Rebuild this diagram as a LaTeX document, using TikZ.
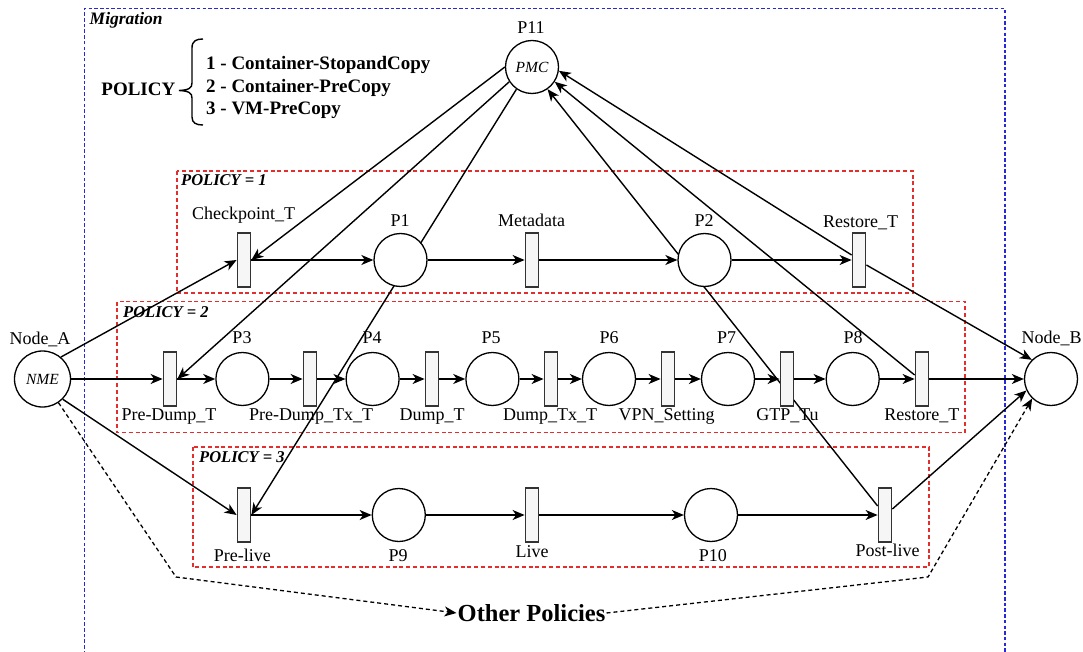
\documentclass[tikz,border=0pt]{standalone}
\usepackage{fontspec}
\setmainfont{Liberation Serif}
\usetikzlibrary{arrows.meta,calc}
\pgfdeclarelayer{bg}
\pgfsetlayers{bg,main}
\definecolor{polred}{RGB}{228,45,45}
\definecolor{migblue}{RGB}{40,40,215}
\definecolor{tfill}{RGB}{246,246,246}
\begin{document}
\begin{tikzpicture}[x=1pt,y=-1pt,
  place/.style={circle,draw=black,line width=1.3pt,fill=white,minimum size=53pt,inner sep=0pt},
  trans/.style={rectangle,draw=black!80,line width=1.3pt,fill=tfill,minimum width=13.5pt,minimum height=54pt,inner sep=0pt},
  lbl/.style={font=\fontsize{18}{20}\selectfont,inner sep=0pt,anchor=base},
  inlbl/.style={font=\fontsize{15.5}{18}\selectfont\itshape,inner sep=0pt},
  pol/.style={draw=polred,line width=1.6pt,dash pattern=on 4pt off 2.8pt},
  poltxt/.style={font=\fontsize{16.5}{19}\selectfont\bfseries\itshape,inner sep=0pt,anchor=base west},
  arc/.style={line width=1.4pt,-{Stealth[length=12pt,width=10pt,inset=3.5pt]}},
  dasharc/.style={line width=1.3pt,dash pattern=on 4pt off 3pt,-{Stealth[length=12pt,width=10pt,inset=3.5pt]}},
  bigtxt/.style={font=\fontsize{19}{22}\selectfont\bfseries,inner sep=0pt}
]
\useasboundingbox (0,0) rectangle (1083,652);

% ---------- places ----------
\node[place] (P11) at (532,67) {};
\node[inlbl] (tP11) at (P11) {PMC};
\node[place] (P1) at (400.5,260) {};
\node[place] (P2) at (704.5,260) {};
\node[place,minimum size=56pt] (NA) at (42.5,379) {};
\node[inlbl] (tNA) at (NA) {NME};
\node[place] (P3) at (242.4,379) {};
\node[place] (P4) at (372.6,379) {};
\node[place] (P5) at (492.4,379) {};
\node[place] (P6) at (609,379) {};
\node[place] (P7) at (728,379) {};
\node[place] (P8) at (852.7,379) {};
\node[place] (NB) at (1051,379) {};
\node[place] (P9) at (398.8,515) {};
\node[place] (P10) at (711,515) {};

% ---------- transitions ----------
\node[trans] (CkT) at (244,260) {};
\node[trans] (Meta) at (532,260) {};
\node[trans] (RT1) at (859,260) {};
\node[trans] (PDT) at (170,379) {};
\node[trans] (PDTx) at (310,379) {};
\node[trans] (DT) at (432,379) {};
\node[trans] (DTx) at (551,379) {};
\node[trans] (VPN) at (668,379) {};
\node[trans] (GTP) at (787,379) {};
\node[trans] (RT2) at (922,379) {};
\node[trans] (PL) at (244,515) {};
\node[trans] (Live) at (532,515) {};
\node[trans] (PoL) at (885,515) {};

% ---------- labels ----------
\node[lbl] (lP11) at (531,34) {P11};
\node[lbl] (lCkT) at (243.5,220) {Checkpoint\_T};
\node[lbl] (lP1) at (400,226.5) {P1};
\node[lbl] (lMeta) at (531.5,226.5) {Metadata};
\node[lbl] (lP2) at (704,226.5) {P2};
\node[lbl] (lRT1) at (860.5,227.5) {Restore\_T};
\node[lbl] (lNA) at (40,344) {Node\_A};
\node[lbl] (lNB) at (1051.5,343) {Node\_B};
\node[lbl] (lP3) at (242,343) {P3};
\node[lbl] (lP4) at (372,343) {P4};
\node[lbl] (lP5) at (491,343) {P5};
\node[lbl] (lP6) at (609,343) {P6};
\node[lbl] (lP7) at (726.6,343) {P7};
\node[lbl] (lP8) at (853,343) {P8};
\node[lbl] (lPDT) at (169,420.5) {Pre-Dump\_T};
\node[lbl] (lPDTx) at (311,420.5) {Pre-Dump\_Tx\_T};
\node[lbl] (lDT) at (432,420.5) {Dump\_T};
\node[lbl] (lDTx) at (550,420.5) {Dump\_Tx\_T};
\node[lbl] (lVPN) at (666.5,420.5) {VPN\_Setting};
\node[lbl] (lGTP) at (787.5,420.5) {GTP\_Tu};
\node[lbl] (lRT2) at (921.8,420.5) {Restore\_T};
\node[lbl] (lPL) at (242.4,561) {Pre-live};
\node[lbl] (lP9) at (398,561.5) {P9};
\node[lbl] (lLive) at (532,557.5) {Live};
\node[lbl] (lP10) at (712.8,561.5) {P10};
\node[lbl] (lPoL) at (887.6,556) {Post-live};

% ---------- texts ----------
\node[font=\fontsize{17.5}{20}\selectfont\bfseries\itshape,inner sep=0pt,anchor=base west] (mig) at (89.5,25) {Migration};
\node[poltxt] (pol1) at (181,186) {POLICY = 1};
\node[poltxt] (pol2) at (123,317.5) {POLICY = 2};
\node[poltxt] (pol3) at (199,462.5) {POLICY = 3};
\node[bigtxt,anchor=base east] (policy) at (175.5,96) {POLICY};
\node[bigtxt,anchor=base west] (it1) at (206,70) {1 - Container-StopandCopy};
\node[bigtxt,anchor=base west] (it2) at (206,92.5) {2 - Container-PreCopy};
\node[bigtxt,anchor=base west] (it3) at (206,115) {3 - VM-PreCopy};
\node[font=\fontsize{24.5}{28}\selectfont\bfseries,inner sep=1pt] (OP) at (531.5,613) {Other Policies};

\coordinate (b1) at (176,577);
\coordinate (b2) at (928,577);

\begin{pgfonlayer}{bg}
  % frames
  \draw[draw=migblue,line width=1.5pt,dash pattern=on 3.5pt off 2.2pt] (84.5,660) -- (84.5,8.6) -- (1005,8.6) -- (1005,660);
  \draw[pol] (177,171) rectangle (913,293);
  \draw[pol] (117,301.5) rectangle (965,432.6);
  \draw[pol] (193,447) rectangle (929,567);
  % brace
  \draw[line width=1.4pt] (203,39) .. controls (196,39) and (192,41) .. (192,48) -- (192,83)
     .. controls (192,88) and (189,90) .. (179,90.5)
     .. controls (189,91) and (192,93) .. (192,98) -- (192,117)
     .. controls (192,123) and (196,125) .. (203,125);
  % row 1
  \draw[arc] (CkT) -- (P1);
  \draw[arc] (P1) -- (Meta);
  \draw[arc] (Meta) -- (P2);
  \draw[arc] (P2) -- (RT1);
  % row 2
  \draw[arc] (NA) -- (PDT);
  \draw[arc] (PDT) -- (P3);
  \draw[arc] (P3) -- (PDTx);
  \draw[arc] (PDTx) -- (P4);
  \draw[arc] (P4) -- (DT);
  \draw[arc] (DT) -- (P5);
  \draw[arc] (P5) -- (DTx);
  \draw[arc] (DTx) -- (P6);
  \draw[arc] (P6) -- (VPN);
  \draw[arc] (VPN) -- (P7);
  \draw[arc] (P7) -- (GTP);
  \draw[arc] (GTP) -- (P8);
  \draw[arc] (P8) -- (RT2);
  \draw[arc] (RT2) -- (NB);
  % row 3
  \draw[arc] (PL) -- (P9);
  \draw[arc] (P9) -- (Live);
  \draw[arc] (Live) -- (P10);
  \draw[arc] (P10) -- (PoL);
  % cross connections
  \draw[arc] (NA.50) -- (CkT.west);
  \draw[arc] (NA.-45) -- (PL.west);
  \draw[arc] (P11.180) -- (CkT.east);
  \draw[arc] (P11.213) -- (PDT.east);
  \draw[arc] (P11.235) -- (PL.east);
  \draw[arc] ([yshift=9pt]PoL.west) -- (P11.-55);
  \draw[arc] ([yshift=4pt]RT2.west) -- (P11.-33);
  \draw[arc] ([yshift=5pt]RT1.west) -- (P11.-8);
  \draw[arc] ([yshift=-5pt]RT1.east) -- (NB.135);
  \draw[arc] ([yshift=6pt]PoL.east) -- (NB.205);
  % other policies
  \draw[dasharc] (NA.-56) -- (b1) -- (OP.west);
  \draw[dasharc] (OP.east) -- (b2) -- (NB.226);
\end{pgfonlayer}
\end{tikzpicture}
\end{document}
